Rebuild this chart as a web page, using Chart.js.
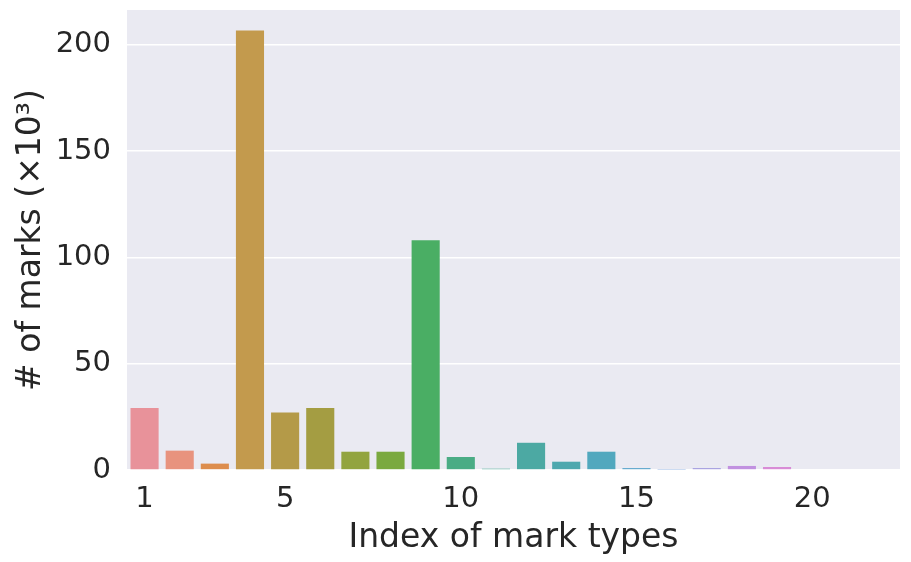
<!DOCTYPE html>
<html>
<head>
<meta charset="utf-8">
<script src="https://cdn.jsdelivr.net/npm/chart.js@4"></script>
<style>
  html, body { margin: 0; padding: 0; background: #fff; }
  #wrap { width: 911px; height: 562px; }
</style>
</head>
<body>
<div id="wrap"><canvas id="marksChart" width="911" height="562"></canvas></div>
<script>
// mark type indices 1..22
const markTypes = [1, 2, 3, 4, 5, 6, 7, 8, 9, 10, 11, 12, 13, 14, 15, 16, 17, 18, 19, 20, 21, 22];
// number of marks (x10^3)
const markCounts = [29.2, 9.1, 3.0, 206.7, 27.0, 29.2, 8.6, 8.6, 108.0, 6.1, 0.6, 12.8, 3.9, 8.6, 0.9, 0.2, 0.9, 1.9, 1.4, 0, 0, 0];
const xTickLabels = [1, 5, 10, 15, 20];
const yTicks = [0, 50, 100, 150, 200];

const barColors = [
    '#E8929A', '#E8937E', '#DD8D4D', '#C39A4D', '#B49A48', '#A49D42',
    '#92A43F', '#7AA93F', '#4AAE64', '#4AAC85', '#49AA96', '#4CA9A3',
    '#4DA8AE', '#51A8BE', '#5AA5CC', '#79A0DB', '#A49DE0', '#C191E0',
    '#D88CD6', '#E08CC0', '#E48EAE', '#E8919F'
];

const plotBackground = {
    id: 'plotBackground',
    beforeDraw(chart) {
        const { ctx, chartArea } = chart;
        ctx.save();
        ctx.fillStyle = '#EAEAF2';
        ctx.fillRect(chartArea.left, chartArea.top, chartArea.right - chartArea.left, chartArea.bottom - chartArea.top);
        ctx.restore();
    }
};

Chart.defaults.font.family = '"DejaVu Sans", sans-serif';
Chart.defaults.color = '#262626';

new Chart(document.getElementById('marksChart').getContext('2d'), {
    type: 'bar',
    data: {
        labels: markTypes,
        datasets: [{
            data: markCounts,
            backgroundColor: barColors,
            borderWidth: 0,
            categoryPercentage: 1.0,
            barPercentage: 0.8
        }]
    },
    options: {
        responsive: false,
        animation: false,
        layout: { padding: { top: 10, right: 11, left: 0, bottom: 0 } },
        plugins: {
            legend: { display: false },
            tooltip: { enabled: false }
        },
        scales: {
            x: {
                grid: { display: false, drawTicks: false },
                border: { display: false },
                ticks: {
                    autoSkip: false,
                    maxRotation: 0,
                    padding: 12,
                    font: { size: 29 },
                    callback: function (value, index) {
                        const v = markTypes[index];
                        return xTickLabels.includes(v) ? String(v) : '';
                    }
                },
                title: {
                    display: true,
                    text: 'Index of mark types',
                    font: { size: 33 },
                    padding: { top: 0, bottom: 4 }
                },
                afterFit: function (scale) {
                    scale.height = 92;
                    scale.paddingLeft = 0;
                    scale.paddingRight = 0;
                }
            },
            y: {
                min: 0,
                max: 216.3,
                grid: { color: '#FFFFFF', lineWidth: 1.6, drawTicks: false },
                border: { display: false },
                afterBuildTicks: function (scale) {
                    scale.ticks = yTicks.map(v => ({ value: v }));
                },
                ticks: {
                    padding: 16,
                    font: { size: 29 },
                    callback: v => String(v)
                },
                title: {
                    display: true,
                    text: '# of marks (×10³)',
                    font: { size: 33 },
                    padding: { top: 12, bottom: 0 }
                },
                afterFit: function (scale) {
                    scale.width = 127;
                    scale.paddingTop = 0;
                    scale.paddingBottom = 0;
                }
            }
        }
    },
    plugins: [plotBackground]
});
</script>
</body>
</html>
